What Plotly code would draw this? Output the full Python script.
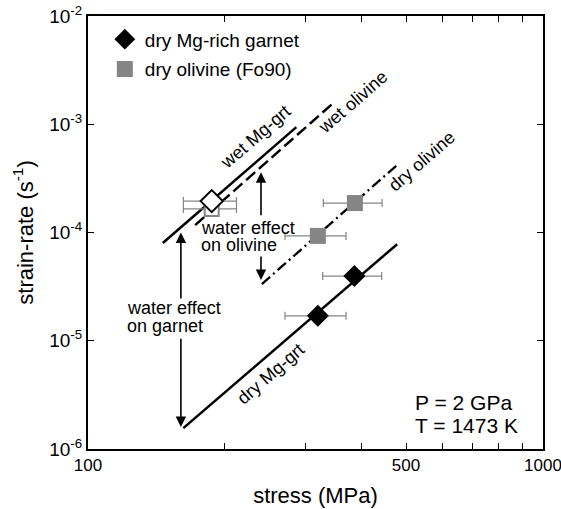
import numpy as np
import plotly.graph_objects as go

# ---------------- data ----------------
# dry Mg-rich garnet
dry_grt_stress = [320, 385]
dry_grt_rate = [1.70e-5, 3.96e-5]
dry_grt_err = [49, 57]
# dry olivine (Fo90)
dry_ol_stress = [320, 386]
dry_ol_rate = [9.3e-5, 1.87e-4]
dry_ol_err = [49, 57]
# wet garnet / wet olivine
wet_grt_stress = [187]
wet_grt_rate = [1.95e-4]
wet_grt_err = [25]
wet_ol_stress = [187]
wet_ol_rate = [1.65e-4]
wet_ol_err = [25]

# flow-law lines (end points)
wet_grt_line_x = [146, 287]
wet_grt_line_y = [8.0e-5, 9.4e-4]
wet_ol_line_x = [172, 346]
wet_ol_line_y = [1.17e-4, 1.57e-3]
dry_ol_line_x = [241, 478]
dry_ol_line_y = [3.34e-5, 4.2e-4]
dry_grt_line_x = [162, 478]
dry_grt_line_y = [1.56e-6, 7.8e-5]

# line labels: text, stress, rate
line_labels = [
    ("wet Mg-grt", 233, 7.7e-4),
    ("wet olivine", 382, 1.62e-3),
    ("dry olivine", 542, 4.6e-4),
    ("dry Mg-grt", 252, 4.9e-6),
]

# water-effect arrows: stress, [tail, head] rates
grt_arrow_x = 160
grt_arrow_up = [2.38e-5, 1.0e-4]
grt_arrow_down = [1.08e-5, 1.6e-6]
ol_arrow_x = 240
ol_arrow_up = [1.40e-4, 3.6e-4]
ol_arrow_down = [6.2e-5, 3.64e-5]

# axis ticks
x_tickvals = [100, 200, 300, 400, 500, 600, 700, 800, 900, 1000]
x_ticktext = ["100", "", "", "", "500", "", "", "", "", "1000"]
y_tickvals = [1e-6, 1e-5, 1e-4, 1e-3, 1e-2]
y_ticktext = ["10<sup>-6</sup>", "10<sup>-5</sup>", "10<sup>-4</sup>",
              "10<sup>-3</sup>", "10<sup>-2</sup>"]

FONT = "Liberation Sans, Arial, Helvetica, sans-serif"
GREY = "#858585"

fig = go.Figure()

# lines
fig.add_trace(go.Scatter(x=wet_grt_line_x, y=wet_grt_line_y, mode="lines",
                         line=dict(color="black", width=2.5), showlegend=False))
fig.add_trace(go.Scatter(x=wet_ol_line_x, y=wet_ol_line_y, mode="lines",
                         line=dict(color="black", width=2.5, dash="12px,5px"),
                         showlegend=False))
fig.add_trace(go.Scatter(x=dry_ol_line_x, y=dry_ol_line_y, mode="lines",
                         line=dict(color="black", width=2.3, dash="11px,4px,2px,4px"),
                         showlegend=False))
fig.add_trace(go.Scatter(x=dry_grt_line_x, y=dry_grt_line_y, mode="lines",
                         line=dict(color="black", width=2.5), showlegend=False))

errstyle = dict(type="data", symmetric=True, color=GREY, thickness=1.2, width=4)

# wet olivine (open grey square)
fig.add_trace(go.Scatter(x=wet_ol_stress, y=wet_ol_rate, mode="markers",
                         error_x=dict(array=wet_ol_err, **errstyle),
                         marker=dict(symbol="square", size=14, color="white",
                                     line=dict(color=GREY, width=2)),
                         showlegend=False))
# wet garnet (open diamond)
fig.add_trace(go.Scatter(x=wet_grt_stress, y=wet_grt_rate, mode="markers",
                         error_x=dict(array=wet_grt_err, **errstyle),
                         marker=dict(symbol="diamond", size=17, color="white",
                                     line=dict(color="black", width=2)),
                         showlegend=False))
# dry garnet
fig.add_trace(go.Scatter(x=dry_grt_stress, y=dry_grt_rate, mode="markers",
                         name="dry Mg-rich garnet", legendgroup="a",
                         error_x=dict(array=dry_grt_err, **errstyle),
                         marker=dict(symbol="diamond", size=17, color="black",
                                     line=dict(width=0))))
# dry olivine
fig.add_trace(go.Scatter(x=dry_ol_stress, y=dry_ol_rate, mode="markers",
                         name="dry olivine (Fo90)", legendgroup="b",
                         error_x=dict(array=dry_ol_err, **errstyle),
                         marker=dict(symbol="square", size=16, color=GREY,
                                     line=dict(width=0))))

ann = []
for txt_, sx, ry in line_labels:
    ann.append(dict(x=np.log10(sx), y=np.log10(ry), xref="x", yref="y",
                    text=txt_, showarrow=False, textangle=-41,
                    font=dict(size=18, color="black", family=FONT)))

def arrow(x, tail_head):
    return dict(x=np.log10(x), y=np.log10(tail_head[1]),
                ax=np.log10(x), ay=np.log10(tail_head[0]),
                xref="x", yref="y", axref="x", ayref="y", text="",
                showarrow=True, arrowhead=2, arrowsize=1.3, arrowwidth=1.6,
                arrowcolor="black", standoff=0, startstandoff=0)

ann += [arrow(grt_arrow_x, grt_arrow_up), arrow(grt_arrow_x, grt_arrow_down),
        arrow(ol_arrow_x, ol_arrow_up), arrow(ol_arrow_x, ol_arrow_down)]

def txt(x, y, s, size=18):
    return dict(x=np.log10(x), y=np.log10(y), xref="x", yref="y", text=s,
                showarrow=False, xanchor="left", yanchor="middle",
                font=dict(size=size, color="black", family=FONT))

ann += [txt(120.6, 2.01e-5, "water effect"), txt(120.6, 1.37e-5, "on garnet"),
        txt(175.4, 1.10e-4, "water effect"), txt(175.4, 7.67e-5, "on olivine")]

ann += [dict(x=0.714, y=0.1085, xref="paper", yref="paper", text="P = 2 GPa",
             showarrow=False, xanchor="left", yanchor="middle",
             font=dict(size=21, color="black", family=FONT)),
        dict(x=0.714, y=0.0554, xref="paper", yref="paper", text="T = 1473 K",
             showarrow=False, xanchor="left", yanchor="middle",
             font=dict(size=21, color="black", family=FONT))]

axis_common = dict(showline=True, linecolor="black", linewidth=2, mirror="ticks",
                   ticks="inside", ticklen=6, tickwidth=1.2, tickcolor="black",
                   showgrid=False, zeroline=False, automargin=False)

fig.update_layout(
    width=561, height=509,
    margin=dict(l=88, r=18, t=16, b=60, autoexpand=False),
    paper_bgcolor="white", plot_bgcolor="white",
    font=dict(family=FONT, color="black"),
    xaxis=dict(type="log", range=[1.99995, 3.00005], tickvals=x_tickvals,
               ticktext=x_ticktext, tickfont=dict(size=17),
               ticklabeloverflow="allow",
               title=dict(text="stress (MPa)", font=dict(size=22), standoff=13),
               **axis_common),
    yaxis=dict(type="log", range=[-6, -2], tickvals=y_tickvals, ticktext=y_ticktext,
               tickfont=dict(size=19), ticklabeloverflow="allow",
               title=dict(text="strain-rate (s<sup>-1</sup>)", font=dict(size=22),
                          standoff=10),
               **axis_common),
    legend=dict(x=0.037, y=0.99, xanchor="left", yanchor="top",
                bgcolor="rgba(0,0,0,0)", font=dict(size=19),
                traceorder="grouped", tracegroupgap=2),
    annotations=ann,
    showlegend=True,
)

fig.write_html("out.html")
